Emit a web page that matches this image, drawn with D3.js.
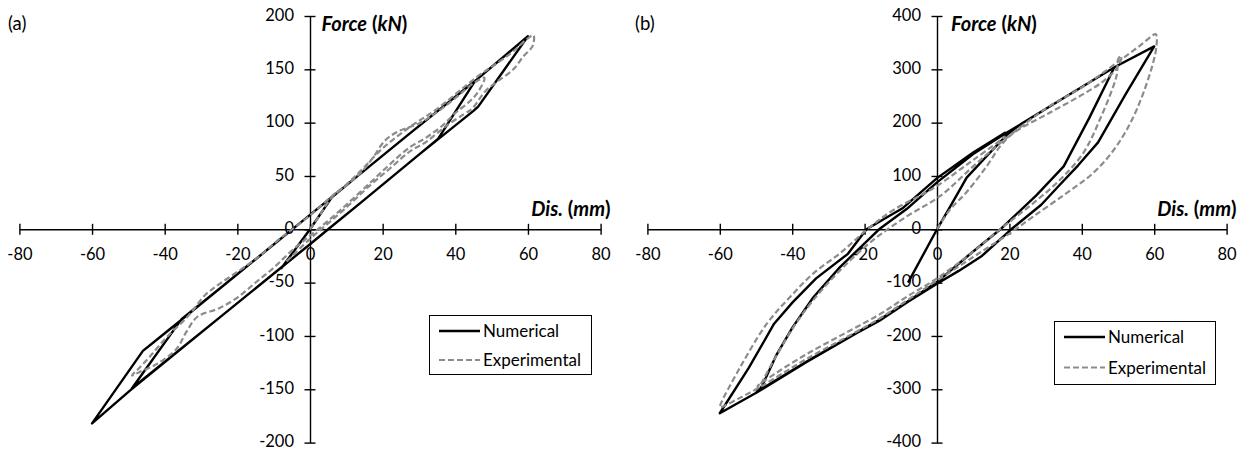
<!DOCTYPE html>
<html><head><meta charset="utf-8">
<script src="https://cdn.jsdelivr.net/npm/d3@7"></script>
<style>
html,body{margin:0;padding:0;background:#fff;}
svg{display:block;font-family:Lato,"Open Sans",sans-serif;}
</style></head>
<body>
<svg id="chart" width="1247" height="450"></svg>
<script>
// ---------- data ----------
const xTicks = [-80, -60, -40, -20, 0, 20, 40, 60, 80];
const yTicksA = [-200, -150, -100, -50, 0, 50, 100, 150, 200];
const yTicksB = [-400, -300, -200, -100, 0, 100, 200, 300, 400];
const seriesNames = ["Numerical", "Experimental"];
const panelLabels = ["(a)", "(b)"];

// panel (a) numerical [dis mm, force kN]
const numA = [
  [-8, -37], [0, 0], [6, 30], [14, 52.5], [27.5, 90], [45.4, 139],
  [35.3, 85], [30, 70], [14, 25], [5, 0], [0, -14], [-8, -36], [-25, -83], [-49, -149],
  [-35.3, -84], [-25, -56], [0, 13.5], [14, 52.5], [27.5, 90], [45.4, 139], [60, 181],
  [46.3, 115], [45, 111], [30, 70], [14, 25], [5, 0], [0, -14], [-25, -83], [-49.5, -151], [-60, -182],
  [-46, -114], [-42.7, -105], [-35.8, -86], [-25, -56], [-11, -17], [0, 13.5]
];
// panel (a) experimental
const expA = [
  [0, 0], [3, 15], [6, 30], [10, 41], [14, 53], [17.3, 67], [20.6, 83], [24.4, 92], [29.9, 99], [34.2, 108],
  [40, 123], [45, 137], [48, 142],
  [46.5, 130], [44, 120], [40, 109], [36.7, 98], [32, 86], [27.5, 77], [22, 61], [17, 45], [10, 23], [5, 8],
  [0, -6], [-5, -20], [-10, -36], [-15, -50], [-20, -64], [-25, -74], [-31, -82], [-34, -96], [-36.7, -112],
  [-42, -126], [-47, -134], [-49, -137],
  [-47, -130], [-44, -119], [-39.4, -101], [-34, -83], [-32, -75], [-29, -62], [-24.8, -51], [-15, -28],
  [-8, -8], [0, 13], [6, 31], [10, 42], [14, 55], [20, 76], [27.5, 96], [35, 113], [46, 143], [52, 157],
  [56, 167], [59.6, 178], [61.5, 182],
  [61.3, 172], [58.7, 162], [56, 150], [51.7, 139], [48.4, 130], [44.6, 113], [42.4, 108], [37.5, 97],
  [32, 82], [27.5, 73], [22, 57], [16.8, 42], [9.2, 18], [4.8, 5], [0, -9], [-7, -32]
];
// panel (b) numerical
const numB = [
  [-8, -100], [0, 0], [3.6, 42], [8.2, 97], [13.7, 137], [19.3, 177], [23.3, 198], [34.2, 243], [49, 304],
  [42, 208], [35, 118], [27.5, 64], [17.5, 0], [8.5, -50], [0, -99],
  [-8, -135], [-16, -170], [-22, -193], [-36, -248], [-49.8, -305],
  [-48.4, -295], [-44.3, -235], [-39.9, -184], [-34.2, -128], [-26.8, -71], [-16, 0], [-8.4, 38], [0, 88],
  [10, 141], [19, 180], [34.2, 243], [49, 304], [60, 343],
  [52, 252], [44.5, 163], [39, 120], [34, 84], [28.8, 46], [20.5, 0], [12.4, -50], [6, -78], [0, -102],
  [-8, -136], [-16, -172], [-22, -194], [-36, -249], [-49.8, -306], [-60, -345],
  [-52, -260], [-45, -177], [-39.9, -137], [-33.4, -92], [-24.6, -46], [-19.5, 0], [-9.4, 40], [0, 96],
  [10, 144], [19, 182]
];
// panel (b) experimental
const expB = [
  [0, 0], [3.6, 37], [8.2, 70], [13.7, 118], [17.4, 155], [21, 180], [31, 218], [40, 252], [46, 278],
  [50, 305], [51, 325],
  [50.1, 320], [49.6, 288], [45, 206], [40.4, 143], [34, 93], [26.6, 49], [17.4, 0], [10, -42], [0, -92],
  [-8, -125], [-16, -160], [-26, -197], [-36, -234], [-45, -272], [-49.5, -294],
  [-49.4, -297], [-45.2, -247], [-39.7, -184], [-34.2, -133], [-26.8, -77], [-17.6, -20], [-8.4, 24],
  [0.8, 62], [10, 118], [19, 170], [30, 226], [40, 266], [50, 314], [56, 344], [60.4, 366],
  [60.7, 360], [60.2, 326], [55.2, 225], [49.6, 156], [43.2, 106], [35.8, 68], [26.6, 24], [20.2, -7],
  [10, -52], [0, -96],
  [-8, -132], [-16, -168], [-26, -206], [-36, -243], [-45, -280], [-50, -300], [-55, -318], [-60, -334],
  [-59.9, -330], [-54.4, -259], [-47, -177], [-40.6, -127], [-34.2, -83], [-26.8, -45], [-19.4, -1],
  [-12.1, 36], [-1, 77], [10, 130], [19, 174]
];

// ---------- drawing ----------
const svg = d3.select("#chart");
const panels = [
  {xr: [19.4, 600.6], yd: [-200, 200], yt: yTicksA, num: numA, exp: expA, label: panelLabels[0], labelX: 8,
   titleX: 321.5, leg: {x: 429, y: 315, w: 162, h: 59, r1: 331, r2: 360}},
  {xr: [647.4, 1226.6], yd: [-400, 400], yt: yTicksB, num: numB, exp: expB, label: panelLabels[1], labelX: 635,
   titleX: 951, leg: {x: 1054, y: 321, w: 161, h: 63, r1: 337, r2: 367.5}}
];
const yr = [442.6, 16];
const fmt = d => String(d);

panels.forEach(p => {
  const x = d3.scaleLinear([-80, 80], p.xr);
  const y = d3.scaleLinear(p.yd, yr);
  const g = svg.append("g");
  const x0 = x(0), y0 = y(0);

  // x axis
  const gx = g.append("g").attr("transform", `translate(0,${y0})`)
    .call(d3.axisBottom(x).tickValues(xTicks).tickFormat(fmt).tickSizeInner(5.5).tickSizeOuter(0));
  gx.selectAll(".tick line").attr("y1", -5.5).attr("y2", 5.5);
  gx.selectAll(".tick text").attr("y", 31).attr("dy", null);

  // y axis
  const gy = g.append("g").attr("transform", `translate(${x0},0)`)
    .call(d3.axisLeft(y).tickValues(p.yt).tickFormat(fmt).tickSizeInner(5.5).tickSizeOuter(0));
  gy.selectAll(".tick line").attr("x1", 5.5).attr("x2", -5.5);
  gy.selectAll(".tick text").attr("x", -16).attr("dy", "0.26em");

  [gx, gy].forEach(a => {
    a.attr("font-family", "Lato").attr("font-size", 16.5);
    a.selectAll("path.domain").attr("stroke", "#000").attr("stroke-width", 1.4);
    a.selectAll(".tick line").attr("stroke", "#000").attr("stroke-width", 1.4);
    a.selectAll(".tick text").attr("fill", "#000");
  });

  // series
  const lineNum = d3.line().x(d => x(d[0])).y(d => y(d[1])).curve(d3.curveLinear);
  const lineExp = d3.line().x(d => x(d[0])).y(d => y(d[1])).curve(d3.curveCatmullRom.alpha(0.5));
  g.append("path").datum(p.num).attr("d", lineNum)
    .attr("fill", "none").attr("stroke", "#000").attr("stroke-width", 2.4).attr("stroke-linejoin", "round");
  g.append("path").datum(p.exp).attr("d", lineExp)
    .attr("fill", "none").attr("stroke", "#8c8c8c").attr("stroke-width", 2.2).attr("stroke-dasharray", "6,3");

  // axis titles
  const t1 = g.append("text").attr("x", p.titleX).attr("y", 31)
    .attr("font-family", "Lato").attr("font-size", 20).attr("font-weight", "bold").attr("fill", "#000");
  t1.append("tspan").attr("font-style", "italic").text("Force");
  t1.append("tspan").text(" (");
  t1.append("tspan").attr("font-style", "italic").text("kN");
  t1.append("tspan").text(")");

  const t2 = g.append("text").attr("x", p.xr[1] + 10).attr("y", 216).attr("text-anchor", "end")
    .attr("font-family", "Lato").attr("font-size", 20).attr("font-weight", "bold").attr("fill", "#000");
  t2.append("tspan").attr("font-style", "italic").text("Dis.");
  t2.append("tspan").text(" (");
  t2.append("tspan").attr("font-style", "italic").text("mm");
  t2.append("tspan").text(")");

  // panel label
  g.append("text").attr("x", p.labelX).attr("y", 30).attr("font-family", "Lato").attr("font-size", 18.5)
    .attr("fill", "#000").text(p.label);

  // legend
  const L = p.leg;
  g.append("rect").attr("x", L.x + 0.5).attr("y", L.y + 0.5).attr("width", L.w).attr("height", L.h)
    .attr("fill", "#fff").attr("stroke", "#000").attr("stroke-width", 1);
  const rows = [{n: seriesNames[0], yy: L.r1, c: "#000", da: null, w: 2.4}, {n: seriesNames[1], yy: L.r2, c: "#8c8c8c", da: "6,3", w: 2.2}];
  rows.forEach(r => {
    g.append("line").attr("x1", L.x + 10).attr("x2", L.x + 51).attr("y1", r.yy).attr("y2", r.yy)
      .attr("stroke", r.c).attr("stroke-width", r.w).attr("stroke-dasharray", r.da);
    g.append("text").attr("x", L.x + 54).attr("y", r.yy).attr("dy", "0.36em").attr("font-family", "Lato")
      .attr("font-size", 17).attr("fill", "#000").text(r.n);
  });
});
</script>
</body></html>
